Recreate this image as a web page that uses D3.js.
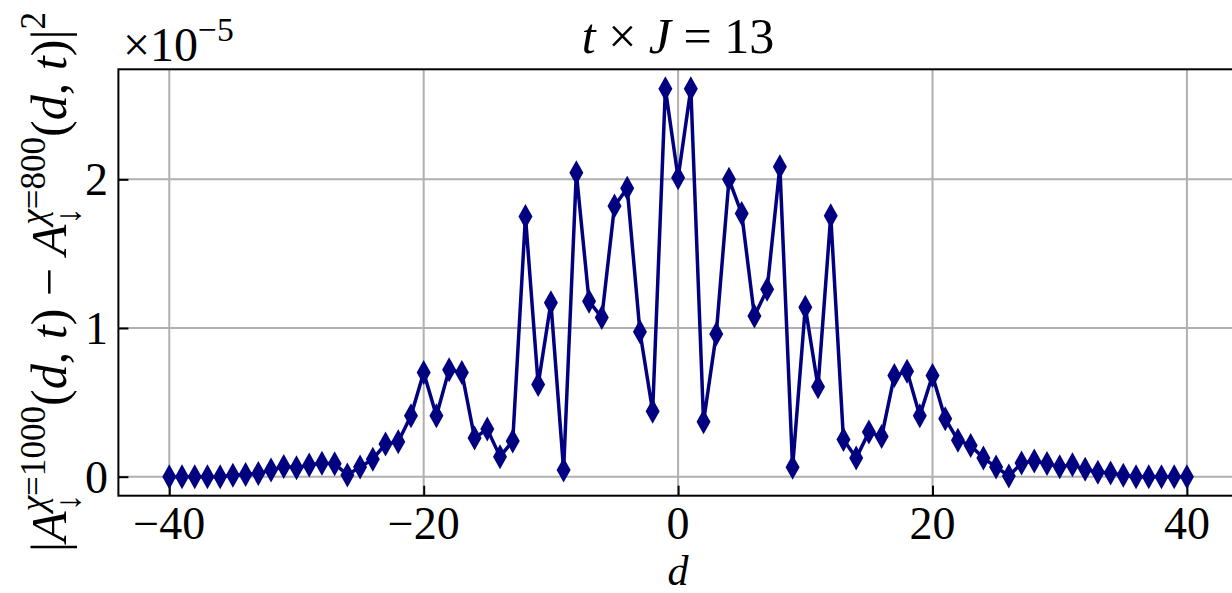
<!doctype html>
<html>
<head>
<meta charset="utf-8">
<style>
    body { margin: 0; background: #fff; }
    svg { display: block; }
    text { font-family: "Liberation Serif", "DejaVu Serif", serif; fill: #000; white-space: pre; }
</style>
<script src="https://d3js.org/d3.v7.min.js"></script>
</head>
<body>
<svg width="1232" height="593"></svg>
<script>
// sites d = -40 ... 40
var dVals = d3.range(-40, 41);

// |A^{1000} - A^{800}|^2, in units of 1e-5
var diffVals = [
    0, 0, 0, 0, 0, 0.01, 0.015, 0.022, 0.045, 0.068,
    0.06, 0.078, 0.09, 0.087, 0.012, 0.065, 0.118, 0.22, 0.235, 0.41,
    0.70, 0.41, 0.72, 0.70, 0.26, 0.32, 0.135, 0.24, 1.75, 0.62,
    1.17, 0.045, 2.045, 1.18, 1.07, 1.82, 1.94, 0.975, 0.44, 2.61,
    2.01,
    2.61, 0.37, 0.96, 2.00, 1.77, 1.08, 1.26, 2.085, 0.063, 1.14,
    0.605, 1.755, 0.25, 0.125, 0.30, 0.27, 0.68, 0.71, 0.41, 0.68,
    0.39, 0.245, 0.21, 0.125, 0.065, 0.005, 0.092, 0.105, 0.088, 0.067,
    0.08, 0.05, 0.03, 0.025, 0.01, 0, 0, 0, 0, 0
];

var xTicks = [-40, -20, 0, 20, 40];
var yTicks = [0, 1, 2];

var svg = d3.select("svg");

var pLeft = 118.4, pRight = 1237.8, pTop = 69.3, pBottom = 495.7;

var x = d3.scaleLinear().domain([-44, 44]).range([pLeft, pRight]);
var y = d3.scaleLinear().domain([-0.1278, 2.740]).range([pBottom, pTop]);

var data = dVals.map(function(d, i) { return {d: d, v: diffVals[i]}; });

// grid
var grid = svg.append("g");
grid.selectAll(".gx").data(xTicks).enter().append("line")
    .attr("x1", function(d) { return x(d); })
    .attr("x2", function(d) { return x(d); })
    .attr("y1", pTop).attr("y2", pBottom)
    .attr("stroke", "#b0b0b0").attr("stroke-width", 2);
grid.selectAll(".gy").data(yTicks).enter().append("line")
    .attr("x1", pLeft).attr("x2", pRight)
    .attr("y1", function(d) { return y(d); })
    .attr("y2", function(d) { return y(d); })
    .attr("stroke", "#b0b0b0").attr("stroke-width", 2);

// axes with inward ticks
var fmt = function(d) { return d < 0 ? "\u2212" + Math.abs(d) : "" + d; };

var xAxis = svg.append("g")
    .attr("transform", "translate(0," + pBottom + ")")
    .call(d3.axisTop(x).tickValues(xTicks).tickSize(10).tickFormat(""));
svg.append("g").selectAll("text").data(xTicks).enter().append("text")
    .attr("x", function(d) { return x(d); })
    .attr("y", 539)
    .attr("text-anchor", "middle")
    .attr("font-size", 46)
    .text(fmt);

var yAxis = svg.append("g")
    .attr("transform", "translate(" + pLeft + ",0)")
    .call(d3.axisRight(y).tickValues(yTicks).tickSize(10).tickFormat(""));
svg.append("g").selectAll("text").data(yTicks).enter().append("text")
    .attr("x", 108)
    .attr("y", function(d) { return y(d) + 16; })
    .attr("text-anchor", "end")
    .attr("font-size", 46)
    .text(fmt);

[xAxis, yAxis].forEach(function(a) {
    a.select(".domain").remove();
    a.selectAll(".tick line").attr("stroke", "#000").attr("stroke-width", 2);
});

// frame
svg.append("rect")
    .attr("x", pLeft).attr("y", pTop)
    .attr("width", pRight - pLeft).attr("height", pBottom - pTop)
    .attr("fill", "none").attr("stroke", "#000").attr("stroke-width", 2);

// series
var line = d3.line()
    .x(function(d) { return x(d.d); })
    .y(function(d) { return y(d.v); });

svg.append("path")
    .datum(data)
    .attr("d", line)
    .attr("fill", "none")
    .attr("stroke", "#000080")
    .attr("stroke-width", 3.5)
    .attr("stroke-linejoin", "round");

var hw = 7, hh = 12.5;
svg.append("g").selectAll("path").data(data).enter().append("path")
    .attr("transform", function(d) { return "translate(" + x(d.d) + "," + y(d.v) + ")"; })
    .attr("d", "M0," + (-hh) + "L" + hw + ",0L0," + hh + "L" + (-hw) + ",0Z")
    .attr("fill", "#000080");

// little helper for math-like labels
function mathText(g, pieces, fs) {
    g.selectAll("*").remove();
    var cx = 0;
    pieces.forEach(function(p) {
        var t = g.append("text").attr("x", cx).attr("y", 0).attr("font-size", fs)
            .attr("font-style", p.it ? "italic" : "normal").text(p.t);
        cx += t.node().getComputedTextLength();
        var w = 0;
        if (p.sup) {
            var s = g.append("text").attr("x", cx).attr("y", -0.42 * fs).attr("font-size", 0.7 * fs);
            p.sup.forEach(function(q) {
                s.append("tspan").attr("font-style", q.it ? "italic" : "normal").text(q.t);
            });
            w = Math.max(w, s.node().getComputedTextLength());
        }
        if (p.sub) {
            var b = g.append("text").attr("x", cx).attr("y", 0.28 * fs).attr("font-size", 0.7 * fs).text(p.sub);
            w = Math.max(w, b.node().getComputedTextLength());
        }
        cx += w;
    });
    return cx;
}

// title
var title = svg.append("g");
var tw = mathText(title, [
    {t: "t", it: true}, {t: " \u00d7 "}, {t: "J", it: true}, {t: " = 13"}
], 50);
title.attr("transform", "translate(" + (678 - tw / 2) + ",53)");

// offset text
var off = svg.append("g").attr("transform", "translate(123,61)");
mathText(off, [{t: "\u00d710", sup: [{t: "\u22125"}]}], 48);

// x label
svg.append("text")
    .attr("x", 678).attr("y", 585)
    .attr("text-anchor", "middle")
    .attr("font-size", 42)
    .attr("font-style", "italic")
    .text("d");

// y label
var ylPieces = [
    {t: "|"},
    {t: "A", it: true, sub: "\u2193", sup: [{t: "\u03c7", it: true}, {t: "=1000"}]},
    {t: "("}, {t: "d", it: true}, {t: ", "}, {t: "t", it: true}, {t: ") \u2212 "},
    {t: "A", it: true, sub: "\u2193", sup: [{t: "\u03c7", it: true}, {t: "=800"}]},
    {t: "("}, {t: "d", it: true}, {t: ", "}, {t: "t", it: true}, {t: ")|", sup: [{t: "2"}]}
];
var yl = svg.append("g");
var lw = mathText(yl, ylPieces, 44);
lw = mathText(yl, ylPieces, 44 * 540 / lw);
yl.attr("transform", "translate(66," + (282 + lw / 2) + ") rotate(-90)");
</script>
</body>
</html>
